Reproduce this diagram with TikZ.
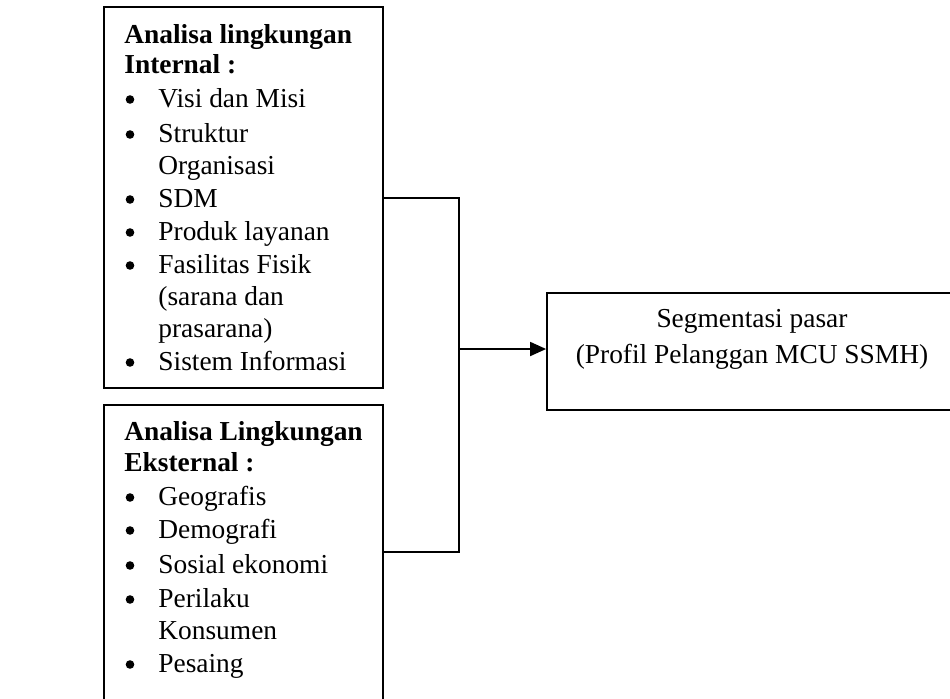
\documentclass[tikz,border=0pt]{standalone}
\usepackage{fontspec}
\setmainfont{Liberation Serif}
\usetikzlibrary{arrows.meta}
\begin{document}
\begin{tikzpicture}[x=0.5pt,y=-0.5pt,
  box/.style={draw, line width=0.9pt, inner sep=0pt, rectangle},
  txt/.style={anchor=base west, inner sep=0pt, font=\fontsize{13.7}{16}\selectfont},
  hd/.style={anchor=base west, inner sep=0pt, font=\fontsize{13.7}{16}\selectfont\bfseries},
  bul/.style={circle, fill, inner sep=0pt, minimum size=4.3pt},
  ctr/.style={anchor=base, inner sep=0pt, font=\fontsize{13.7}{16}\selectfont},
  conn/.style={line width=0.9pt},
]
\useasboundingbox (0,0) rectangle (950,698);
\clip (0,0) rectangle (950,698);

% boxes
\node[box, minimum width=139.5pt, minimum height=190.5pt] (a) at (243.5,197.5) {};
\node[box, minimum width=139.5pt, minimum height=157.5pt] (b) at (243.5,562.5) {};
\node[box, minimum width=204pt, minimum height=58.5pt] (c) at (751,351.5) {};

% box 1 text
\node[hd] (a1) at (124,43) {Analisa lingkungan};
\node[hd] (a2) at (124,73) {Internal :};
\node[bul] (ab1) at (130,99.5) {};
\node[txt] (at1) at (158,107) {Visi dan Misi};
\node[bul] (ab2) at (130,134.5) {};
\node[txt] (at2) at (158,142) {Struktur};
\node[txt] (at2b) at (158,174) {Organisasi};
\node[bul] (ab3) at (130,199.5) {};
\node[txt] (at3) at (158,207) {SDM};
\node[bul] (ab4) at (130,232.5) {};
\node[txt] (at4) at (158,240) {Produk layanan};
\node[bul] (ab5) at (130,265.5) {};
\node[txt] (at5) at (158,273) {Fasilitas Fisik};
\node[txt] (at5b) at (158,305) {(sarana dan};
\node[txt] (at5c) at (158,337) {prasarana)};
\node[bul] (ab6) at (130,362.5) {};
\node[txt] (at6) at (158,370) {Sistem Informasi};

% box 2 text
\node[hd] (b1) at (124,440) {Analisa Lingkungan};
\node[hd] (b2) at (124,471) {Eksternal :};
\node[bul] (bb1) at (130,497.5) {};
\node[txt] (bt1) at (158,505) {Geografis};
\node[bul] (bb2) at (130,530.5) {};
\node[txt] (bt2) at (158,538) {Demografi};
\node[bul] (bb3) at (130,565.5) {};
\node[txt] (bt3) at (158,573) {Sosial ekonomi};
\node[bul] (bb4) at (130,599.5) {};
\node[txt] (bt4) at (158,607) {Perilaku};
\node[txt] (bt4b) at (158,639) {Konsumen};
\node[bul] (bb5) at (130,664.5) {};
\node[txt] (bt5) at (158,672) {Pesaing};

% box 3 text
\node[ctr] (c1) at (752,327) {Segmentasi pasar};
\node[ctr] (c2) at (752,363) {(Profil Pelanggan MCU SSMH)};

% connectors
\coordinate (j1) at (459,198);
\coordinate (j2) at (459,552);
\coordinate (jm) at (459,349);
\draw[conn] (a.east |- j1) -- (j1) -- (j2) -- (b.east |- j2);
\draw[conn, -{Triangle[length=8pt,width=7pt]}] (jm) -- (c.west |- jm);
\end{tikzpicture}
\end{document}
